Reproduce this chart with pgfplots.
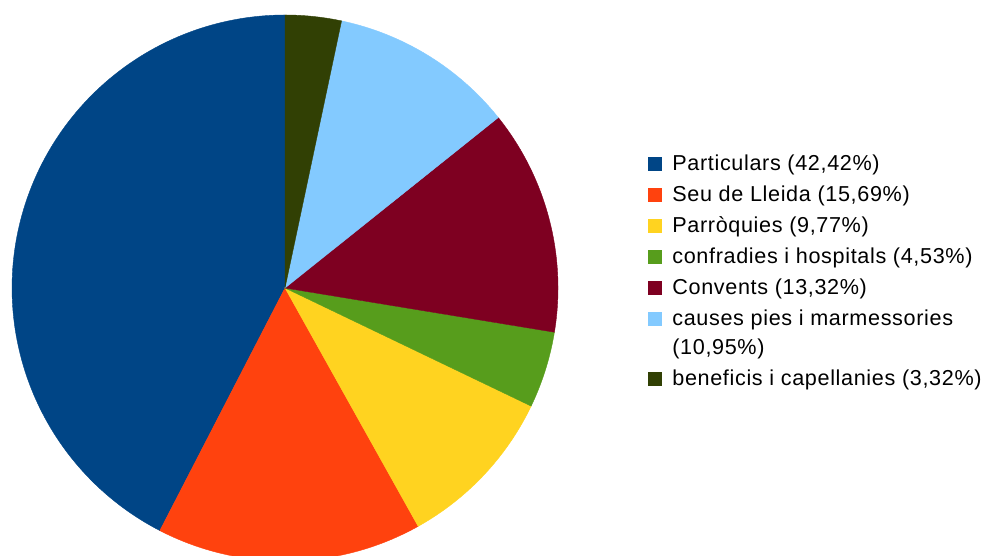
\documentclass[border=0pt]{standalone}
\usepackage{pgfplots}
\pgfplotsset{compat=1.18}
\usepackage{fontspec}
\setmainfont{Liberation Sans}[LetterSpace=3.0]
\definecolor{c1}{HTML}{004586}
\definecolor{c2}{HTML}{FF420E}
\definecolor{c3}{HTML}{FFD320}
\definecolor{c4}{HTML}{579D1C}
\definecolor{c5}{HTML}{7E0021}
\definecolor{c6}{HTML}{83CAFF}
\definecolor{c7}{HTML}{314004}
\pgfplotsset{squp/.style={legend image code/.code={\path[##1] (0pt,5.875pt) rectangle (9.75pt,15.625pt);}}}
\begin{document}
\begin{tikzpicture}
\begin{axis}[
  scale only axis, width=738pt, height=417pt,
  xmin=-1.0440, xmax=2.5604, ymin=-0.9817, ymax=1.0549,
  hide axis,
  samples=120, variable=\t,
  legend image code/.code={\path[#1] (0pt,-4.875pt) rectangle (9.75pt,4.875pt);},
  legend cell align=left,
  legend style={at={(axis cs:1.3297,0.4945)}, anchor=north west, draw=none, fill=none,
    inner sep=0pt, font=\fontsize{16.2}{21.5}\selectfont, row sep=8pt, column sep=7pt,
    nodes={align=left, inner sep=1pt}},
]
% percentages: 42.42, 15.69, 9.77, 4.53, 13.32, 10.95, 3.32 (counterclockwise from the top)
\addplot[fill=c1, draw=c1, line width=0.3pt, domain={90}:{90+3.6*(42.42)}] ({cos(\t)},{sin(\t)}) -- (axis cs:0,0) -- cycle;
\addlegendentry{Particulars (42,42\%)}
\addplot[fill=c2, draw=c2, line width=0.3pt, domain={90+3.6*(42.42)}:{90+3.6*(42.42+15.69)}] ({cos(\t)},{sin(\t)}) -- (axis cs:0,0) -- cycle;
\addlegendentry{Seu de Lleida (15,69\%)}
\addplot[fill=c3, draw=c3, line width=0.3pt, domain={90+3.6*(42.42+15.69)}:{90+3.6*(42.42+15.69+9.77)}] ({cos(\t)},{sin(\t)}) -- (axis cs:0,0) -- cycle;
\addlegendentry{Parròquies (9,77\%)}
\addplot[fill=c4, draw=c4, line width=0.3pt, domain={90+3.6*(42.42+15.69+9.77)}:{90+3.6*(42.42+15.69+9.77+4.53)}] ({cos(\t)},{sin(\t)}) -- (axis cs:0,0) -- cycle;
\addlegendentry{confradies i hospitals (4,53\%)}
\addplot[fill=c5, draw=c5, line width=0.3pt, domain={90+3.6*(42.42+15.69+9.77+4.53)}:{90+3.6*(42.42+15.69+9.77+4.53+13.32)}] ({cos(\t)},{sin(\t)}) -- (axis cs:0,0) -- cycle;
\addlegendentry{Convents (13,32\%)}
\addplot[fill=c6, draw=c6, line width=0.3pt, squp, domain={90+3.6*(42.42+15.69+9.77+4.53+13.32)}:{90+3.6*(42.42+15.69+9.77+4.53+13.32+10.95)}] ({cos(\t)},{sin(\t)}) -- (axis cs:0,0) -- cycle;
\addlegendentry{causes pies i marmessories\\(10,95\%)}
\addplot[fill=c7, draw=c7, line width=0.3pt, domain={90+3.6*(42.42+15.69+9.77+4.53+13.32+10.95)}:{90+3.6*(42.42+15.69+9.77+4.53+13.32+10.95+3.32)}] ({cos(\t)},{sin(\t)}) -- (axis cs:0,0) -- cycle;
\addlegendentry{beneficis i capellanies (3,32\%)}
\coordinate (sw) at (rel axis cs:0,0);
\coordinate (ne) at (rel axis cs:1,1);
\end{axis}
\pgfresetboundingbox
\path (sw) rectangle (ne);
\end{tikzpicture}
\end{document}
